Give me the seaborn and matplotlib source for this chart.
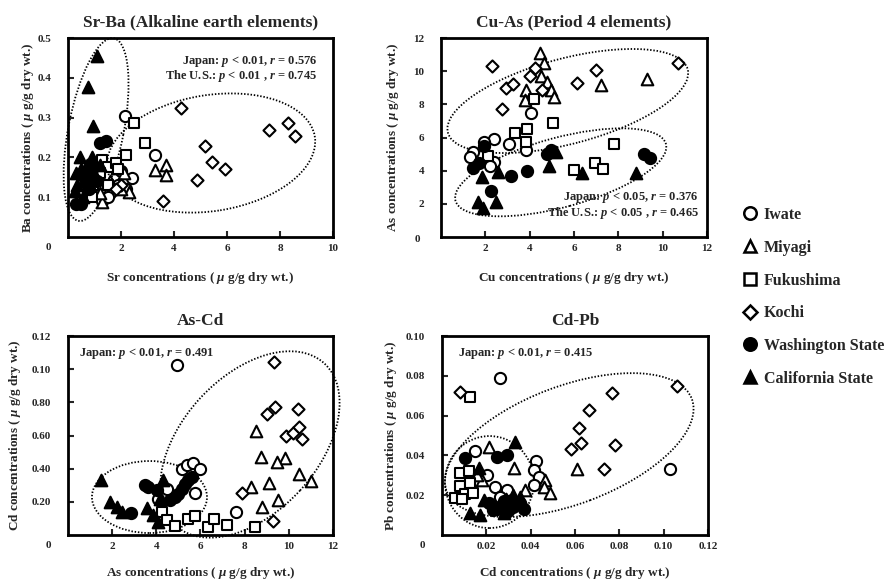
import matplotlib.pyplot as plt
import seaborn as sns
from matplotlib.patches import Ellipse
from matplotlib.lines import Line2D
from matplotlib.transforms import ScaledTranslation

sites = ['Iwate', 'Miyagi', 'Fukushima', 'Kochi', 'Washington State', 'California State']
markers = ['o', '^', 's', 'D', 'o', '^']
fills = ['white', 'white', 'white', 'white', 'black', 'black']
sizes = [65, 70, 58, 38, 65, 70]

# Sr-Ba
srba_iwate_x = [2.15, 3.28, 2.4, 2.0, 1.9, 1.6, 1.3, 1.5, 2.2]
srba_iwate_y = [0.303, 0.206, 0.148, 0.165, 0.13, 0.11, 0.09, 0.1, 0.12]
srba_miyagi_x = [3.3, 3.7, 3.7, 2.3, 1.85, 1.3, 1.2, 2.1, 1.6, 2.0]
srba_miyagi_y = [0.168, 0.18, 0.155, 0.113, 0.173, 0.087, 0.11, 0.16, 0.14, 0.12]
srba_fukushima_x = [2.5, 2.9, 2.2, 1.3, 1.5, 1.8, 0.7, 0.95, 0.9, 1.5, 1.2, 1.9]
srba_fukushima_y = [0.287, 0.236, 0.206, 0.193, 0.176, 0.185, 0.151, 0.13, 0.1, 0.13, 0.16, 0.17]
srba_kochi_x = [4.27, 7.6, 8.3, 8.55, 5.17, 5.43, 5.93, 4.85, 3.6, 2.0, 1.8]
srba_kochi_y = [0.325, 0.27, 0.287, 0.253, 0.229, 0.188, 0.17, 0.142, 0.09, 0.13, 0.12]
srba_washington_x = [1.2, 1.45, 0.3, 0.5, 0.6, 0.9, 0.8, 1.1]
srba_washington_y = [0.236, 0.24, 0.083, 0.082, 0.15, 0.17, 0.12, 0.14]
srba_california_x = [1.1, 0.77, 0.95, 0.45, 0.9, 0.3, 0.5, 0.7, 0.35, 0.6, 0.8, 1.0, 0.25, 0.55, 0.75, 1.2]
srba_california_y = [0.456, 0.376, 0.278, 0.2, 0.2, 0.16, 0.17, 0.18, 0.13, 0.14, 0.15, 0.16, 0.115, 0.1, 0.13, 0.18]

# Cu-As
cuas_iwate_x = [4.05, 2.4, 1.95, 3.07, 3.83, 1.45, 1.3, 2.4, 2.2]
cuas_iwate_y = [7.45, 5.9, 5.7, 5.6, 5.25, 5.1, 4.8, 4.5, 4.3]
cuas_miyagi_x = [4.46, 4.64, 4.5, 4.77, 3.83, 3.78, 4.95, 5.1, 7.2, 9.3]
cuas_miyagi_y = [11.1, 10.5, 9.7, 9.35, 8.85, 8.25, 8.85, 8.45, 9.15, 9.55]
cuas_fukushima_x = [4.2, 3.87, 3.33, 5.04, 3.83, 2.1, 6.0, 6.95, 7.33, 7.8]
cuas_fukushima_y = [8.3, 6.5, 6.3, 6.9, 5.7, 4.9, 4.05, 4.45, 4.1, 5.6]
cuas_kochi_x = [2.3, 4.23, 4.0, 2.93, 3.24, 2.75, 4.55, 6.13, 7.0, 10.7]
cuas_kochi_y = [10.3, 10.2, 9.7, 9.0, 9.2, 7.7, 8.85, 9.3, 10.1, 10.5]
cuas_washington_x = [1.44, 1.7, 2.25, 3.15, 3.87, 4.8, 4.95, 9.15, 9.45, 1.95]
cuas_washington_y = [4.15, 4.45, 2.8, 3.7, 3.95, 5.0, 5.25, 5.0, 4.75, 5.5]
cuas_california_x = [1.83, 1.65, 1.9, 2.5, 2.55, 4.87, 5.2, 6.35, 8.8]
cuas_california_y = [3.6, 2.1, 1.75, 2.1, 3.9, 4.3, 5.1, 3.85, 3.85]

# As-Cd
ascd_iwate_x = [4.93, 5.14, 5.4, 5.66, 5.97, 5.75, 4.07, 4.5, 7.6]
ascd_iwate_y = [0.1025, 0.040, 0.042, 0.0433, 0.040, 0.0253, 0.022, 0.028, 0.014]
ascd_miyagi_x = [8.5, 8.73, 8.3, 9.1, 9.82, 9.46, 10.45, 11.0, 9.5, 8.77]
ascd_miyagi_y = [0.063, 0.047, 0.029, 0.0314, 0.0464, 0.044, 0.0368, 0.0326, 0.021, 0.0169]
ascd_fukushima_x = [4.24, 4.47, 4.84, 5.43, 5.75, 6.32, 6.6, 7.18, 8.46]
ascd_fukushima_y = [0.014, 0.009, 0.0054, 0.0097, 0.0115, 0.0049, 0.0097, 0.006, 0.005]
ascd_kochi_x = [9.32, 9.0, 9.37, 10.4, 9.86, 10.2, 10.45, 10.6, 7.88, 9.27]
ascd_kochi_y = [0.1043, 0.073, 0.077, 0.076, 0.0597, 0.0614, 0.065, 0.058, 0.0253, 0.0084]
ascd_washington_x = [2.85, 3.62, 4.03, 4.6, 4.84, 4.98, 5.14, 5.3, 5.44, 5.6, 3.5]
ascd_washington_y = [0.0133, 0.029, 0.027, 0.021, 0.023, 0.025, 0.028, 0.031, 0.033, 0.035, 0.030]
ascd_california_x = [1.5, 1.9, 2.2, 2.45, 3.6, 3.85, 4.07, 4.3, 4.15]
ascd_california_y = [0.033, 0.02, 0.017, 0.014, 0.016, 0.012, 0.0078, 0.033, 0.022]

# Cd-Pb
cdpb_iwate_x = [0.0261, 0.1027, 0.0149, 0.0203, 0.0239, 0.0293, 0.0423, 0.0414, 0.0437, 0.0414, 0.026]
cdpb_iwate_y = [0.079, 0.033, 0.042, 0.030, 0.024, 0.0226, 0.037, 0.0327, 0.029, 0.025, 0.019]
cdpb_miyagi_x = [0.021, 0.0324, 0.018, 0.0374, 0.0464, 0.046, 0.0487, 0.0608, 0.016, 0.029]
cdpb_miyagi_y = [0.0444, 0.0338, 0.0276, 0.0226, 0.0276, 0.024, 0.021, 0.033, 0.030, 0.018]
cdpb_fukushima_x = [0.0125, 0.008, 0.012, 0.008, 0.0125, 0.006, 0.0104, 0.014, 0.009]
cdpb_fukushima_y = [0.0695, 0.031, 0.032, 0.0248, 0.026, 0.0186, 0.0206, 0.021, 0.018]
cdpb_kochi_x = [0.0081, 0.058, 0.0617, 0.0627, 0.0662, 0.073, 0.0766, 0.078, 0.106]
cdpb_kochi_y = [0.0718, 0.0432, 0.0538, 0.0462, 0.0628, 0.0332, 0.0714, 0.0452, 0.0748]
cdpb_washington_x = [0.0103, 0.0248, 0.0293, 0.021, 0.025, 0.028, 0.032, 0.035, 0.037, 0.023, 0.030]
cdpb_washington_y = [0.0387, 0.0392, 0.040, 0.016, 0.013, 0.017, 0.014, 0.016, 0.013, 0.0125, 0.012]
cdpb_california_x = [0.033, 0.0167, 0.0126, 0.017, 0.028, 0.035, 0.019, 0.032, 0.024]
cdpb_california_y = [0.0467, 0.0337, 0.011, 0.010, 0.011, 0.019, 0.0176, 0.02, 0.014]

sns.set_style('ticks')
plt.rcParams['font.family'] = ['Liberation Serif', 'DejaVu Serif']
plt.rcParams['font.weight'] = 'bold'
plt.rcParams['axes.titleweight'] = 'bold'
plt.rcParams['axes.labelweight'] = 'bold'
plt.rcParams['mathtext.fontset'] = 'custom'
plt.rcParams['mathtext.rm'] = 'Liberation Serif:bold'
plt.rcParams['mathtext.it'] = 'Liberation Serif:italic:bold'

fig = plt.figure(figsize=(8.87, 5.82), dpi=100)
W, H = 887, 582


def make_ax(left, top, right, bottom):
    return fig.add_axes([left / W, 1 - bottom / H, (right - left) / W, (bottom - top) / H])


def ellipse(ax, cx, cy, a, b, ang):
    # a, b are semi axes in pixels, centre in data units
    e = Ellipse((0, 0), 2 * a / 100, 2 * b / 100, angle=ang, fill=False,
                ec='black', lw=1.3, ls=(0, (0.8, 1.0)), clip_on=False, zorder=1,
                transform=fig.dpi_scale_trans + ScaledTranslation(cx, cy, ax.transData))
    ax.add_patch(e)


def draw(ax, xs, ys, title, xlabel, ylabel, xlim, ylim, xticks, xtl, yticks, ytl, ylab_x, xlab_y, zero_off):
    for i in range(6):
        sns.scatterplot(x=xs[i], y=ys[i], marker=markers[i], s=sizes[i], color=fills[i],
                        edgecolor='black', linewidth=1.5, ax=ax, legend=False, zorder=3)
    ax.set_xlim(xlim)
    ax.set_ylim(ylim)
    ax.set_xticks(xticks)
    ax.set_xticklabels(xtl)
    ax.set_yticks(yticks)
    ax.set_yticklabels(ytl)
    ax.tick_params(direction='in', length=4, width=1.5, labelsize=8)
    ax.tick_params(axis='x', pad=5)
    ax.tick_params(axis='y', pad=12)
    for sp in ax.spines.values():
        sp.set_linewidth(2)
        sp.set_color('black')
    ax.set_title(title, fontsize=12.5, pad=8)
    ax.set_xlabel(xlabel, fontsize=9.5)
    ax.set_ylabel(ylabel, fontsize=9.5)
    ax.xaxis.set_label_coords(0.5, xlab_y)
    ax.yaxis.set_label_coords(ylab_x, 0.5)
    ax.annotate('0', xy=(0, 0), xycoords='axes fraction', xytext=zero_off,
                textcoords='offset pixels', ha='center', va='center', fontsize=8)


unit = '( $\\mu$ g/g dry wt.)'

# Sr-Ba
ax1 = make_ax(68, 38, 333, 237)
draw(ax1,
     [srba_iwate_x, srba_miyagi_x, srba_fukushima_x, srba_kochi_x, srba_washington_x, srba_california_x],
     [srba_iwate_y, srba_miyagi_y, srba_fukushima_y, srba_kochi_y, srba_washington_y, srba_california_y],
     'Sr-Ba (Alkaline earth elements)', 'Sr concentrations ' + unit, 'Ba concentrations ' + unit,
     (0, 10), (0, 0.5), [2, 4, 6, 8, 10], ['2', '4', '6', '8', '10'],
     [0.1, 0.2, 0.3, 0.4, 0.5], ['0.1', '0.2', '0.3', '0.4', '0.5'], -0.12, -0.165, (-20, -10))
ellipse(ax1, 1.06, 0.27, 93, 27.7, 79)
ellipse(ax1, 5.4, 0.211, 105, 58, 9)
ax1.text(0.94, 0.88, 'Japan: $p$ < 0.01, $r$ = 0.576', transform=ax1.transAxes, ha='right', va='center', fontsize=9)
ax1.text(0.94, 0.81, 'The U.S.: $p$ < 0.01 , $r$ = 0.745', transform=ax1.transAxes, ha='right', va='center', fontsize=9)

# Cu-As
ax2 = make_ax(441, 38, 707, 237)
draw(ax2,
     [cuas_iwate_x, cuas_miyagi_x, cuas_fukushima_x, cuas_kochi_x, cuas_washington_x, cuas_california_x],
     [cuas_iwate_y, cuas_miyagi_y, cuas_fukushima_y, cuas_kochi_y, cuas_washington_y, cuas_california_y],
     'Cu-As (Period 4 elements)', 'Cu concentrations ' + unit, 'As concentrations ' + unit,
     (0, 12), (0, 12), [2, 4, 6, 8, 10, 12], ['2', '4', '6', '8', '10', '12'],
     [2, 4, 6, 8, 10, 12], ['2', '4', '6', '8', '10', '12'], -0.15, -0.165, (-24, -2))
ellipse(ax2, 5.72, 8.2, 124, 42.7, 14.8)
ellipse(ax2, 5.4, 3.9, 109, 34.8, 15.1)
ax2.text(0.97, 0.20, 'Japan: $p$ < 0.05, $r$ = 0.376', transform=ax2.transAxes, ha='right', va='center', fontsize=9)
ax2.text(0.97, 0.12, 'The U.S.: $p$ < 0.05 , $r$ = 0.465', transform=ax2.transAxes, ha='right', va='center', fontsize=9)

# As-Cd
ax3 = make_ax(68, 336, 333, 535)
draw(ax3,
     [ascd_iwate_x, ascd_miyagi_x, ascd_fukushima_x, ascd_kochi_x, ascd_washington_x, ascd_california_x],
     [ascd_iwate_y, ascd_miyagi_y, ascd_fukushima_y, ascd_kochi_y, ascd_washington_y, ascd_california_y],
     'As-Cd', 'As concentrations ' + unit, 'Cd concentrations ' + unit,
     (0, 12), (0, 0.12), [2, 4, 6, 8, 10, 12], ['2', '4', '6', '8', '10', '12'],
     [0.02, 0.04, 0.06, 0.08, 0.10, 0.12], ['0.20', '0.40', '0.60', '0.80', '0.10', '0.12'], -0.17, -0.15, (-20, -11))
ellipse(ax3, 8.24, 0.0546, 110, 68, 47.5)
ellipse(ax3, 3.69, 0.0229, 57.5, 36, 0)
ax3.text(0.04, 0.91, 'Japan: $p$ < 0.01, $r$ = 0.491', transform=ax3.transAxes, ha='left', va='center', fontsize=9)

# Cd-Pb
ax4 = make_ax(442, 336, 708, 535)
draw(ax4,
     [cdpb_iwate_x, cdpb_miyagi_x, cdpb_fukushima_x, cdpb_kochi_x, cdpb_washington_x, cdpb_california_x],
     [cdpb_iwate_y, cdpb_miyagi_y, cdpb_fukushima_y, cdpb_kochi_y, cdpb_washington_y, cdpb_california_y],
     'Cd-Pb', 'Cd concentrations ' + unit, 'Pb concentrations ' + unit,
     (0, 0.12), (0, 0.10), [0.02, 0.04, 0.06, 0.08, 0.10, 0.12], ['0.02', '0.04', '0.06', '0.08', '0.10', '0.12'],
     [0.02, 0.04, 0.06, 0.08, 0.10], ['0.02', '0.04', '0.06', '0.08', '0.10'], -0.16, -0.15, (-20, -10))
ellipse(ax4, 0.0574, 0.0452, 131, 59, 20.6)
ellipse(ax4, 0.0214, 0.0266, 44.5, 46, 0)
ax4.text(0.06, 0.91, 'Japan: $p$ < 0.01, $r$ = 0.415', transform=ax4.transAxes, ha='left', va='center', fontsize=9)

handles = [Line2D([], [], ls='none', marker=markers[i], ms=9 if markers[i] != 'D' else 7.5,
                  mfc=fills[i], mec='black', mew=1.8)
           for i in range(6)]
fig.legend(handles, sites, loc='upper left', bbox_to_anchor=(735 / W, 1 - 199 / H), frameon=False,
           fontsize=11.5, handlelength=0.9, handletextpad=0.4, labelspacing=1.05, borderpad=0)

fig.savefig('out.png', dpi=100)
